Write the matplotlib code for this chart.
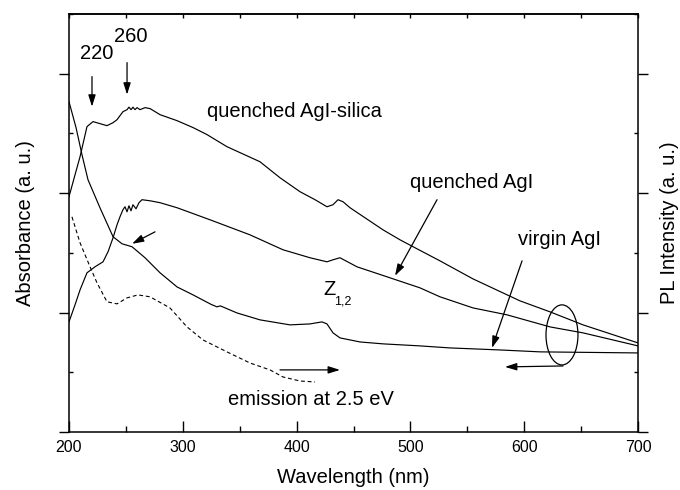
import matplotlib
matplotlib.use("Agg")
import matplotlib.pyplot as plt
from matplotlib.patches import Ellipse
from matplotlib.ticker import MultipleLocator

plt.rcParams['font.family'] = ['Liberation Sans', 'DejaVu Sans']

# ---- data (wavelength nm, absorbance / PL in a.u.) ----
silica_wl = [200.0, 205.3, 209.7, 215.8, 221.1, 227.2, 233.4, 238.7, 242.2, 247.4, 251.0, 252.7,
             254.5, 256.2, 258.0, 259.8, 262.4, 266.8, 271.2, 280.0, 294.9, 309.0, 321.3, 338.8,
             367.8, 385.4, 403.0, 416.2, 426.7, 432.0, 436.4, 440.8, 446.9, 475.9, 490.9, 505.8,
             526.0, 555.0, 596.3, 622.7, 651.7, 700.0]
silica_ab = [1.970, 2.154, 2.305, 2.557, 2.599, 2.582, 2.565, 2.590, 2.615, 2.682, 2.699, 2.720,
             2.699, 2.720, 2.699, 2.716, 2.699, 2.716, 2.708, 2.657, 2.607, 2.549, 2.490, 2.389,
             2.263, 2.129, 2.012, 1.945, 1.886, 1.903, 1.945, 1.928, 1.878, 1.693, 1.609, 1.534,
             1.433, 1.282, 1.098, 1.006, 0.897, 0.746]

quenched_wl = [200.0, 205.3, 209.7, 215.8, 222.8, 229.9, 234.3, 238.7, 242.2, 244.8, 247.4, 249.2,
               251.0, 252.7, 254.5, 256.2, 258.9, 261.5, 264.1, 271.2, 280.0, 294.9, 323.9, 359.0,
               388.0, 411.8, 426.7, 432.0, 438.1, 453.1, 482.1, 508.4, 526.0, 555.0, 584.9, 622.7,
               651.7, 700.0]
quenched_ab = [0.922, 1.065, 1.190, 1.333, 1.383, 1.425, 1.509, 1.626, 1.735, 1.802, 1.861, 1.886,
               1.844, 1.894, 1.852, 1.903, 1.869, 1.920, 1.945, 1.936, 1.920, 1.878, 1.777, 1.651,
               1.526, 1.459, 1.425, 1.442, 1.459, 1.383, 1.291, 1.207, 1.132, 1.039, 0.981, 0.880,
               0.830, 0.721]

virgin_wl = [200.0, 206.2, 211.4, 216.7, 227.2, 238.7, 246.6, 255.4, 266.8, 280.0, 294.9, 309.0,
             325.0, 330.0, 333.0, 347.6, 367.8, 394.2, 411.8, 422.3, 426.7, 432.0, 438.1, 455.7,
             475.9, 508.4, 534.8, 578.7, 613.9, 700.0]
virgin_ab = [2.766, 2.548, 2.322, 2.112, 1.878, 1.635, 1.576, 1.551, 1.459, 1.333, 1.215, 1.148,
             1.068, 1.048, 1.056, 0.997, 0.939, 0.897, 0.905, 0.922, 0.905, 0.830, 0.788, 0.754,
             0.738, 0.721, 0.704, 0.687, 0.671, 0.662]

emission_wl = [202.6, 209.7, 218.5, 224.6, 233.4, 242.2, 251.0, 260.6, 271.2, 288.7, 303.7, 317.7,
               338.8, 359.0, 376.6, 388.0, 403.0, 416.2]
emission_pl = [1.802, 1.584, 1.383, 1.249, 1.090, 1.073, 1.123, 1.148, 1.132, 1.039, 0.880, 0.771,
               0.671, 0.578, 0.520, 0.461, 0.427, 0.419]

x_ticks = [200, 300, 400, 500, 600, 700]
x_label = "Wavelength (nm)"
y_left_label = "Absorbance (a. u.)"
y_right_label = "PL Intensity (a. u.)"

fig = plt.figure(figsize=(6.8, 4.9), dpi=100)
ax = fig.add_axes([69 / 680, 58 / 490, (638 - 69) / 680, (432 - 14) / 490])

lw = 0.85
ax.plot(silica_wl, silica_ab, color='black', lw=lw)
ax.plot(quenched_wl, quenched_ab, color='black', lw=lw)
ax.plot(virgin_wl, virgin_ab, color='black', lw=lw)
ax.plot(emission_wl, emission_pl, color='black', lw=0.8, linestyle=(0, (3.5, 2.5)))

ax.set_xlim(200, 700)
ax.set_ylim(0, 3.5)

ax.set_xticks(x_ticks)
ax.xaxis.set_minor_locator(MultipleLocator(50))
ax.set_yticks([0, 1, 2, 3])
ax.yaxis.set_minor_locator(MultipleLocator(0.5))
ax.set_yticklabels([])

ax.tick_params(axis='x', which='major', direction='in', length=8, width=1.0,
               labelsize=11.5, pad=6, top=False)
ax.tick_params(axis='x', which='minor', direction='in', length=4, width=1.0, top=False)
ax.tick_params(axis='y', which='major', direction='out', length=7, width=1.0,
               left=True, right=True)
ax.tick_params(axis='y', which='minor', direction='in', length=3, width=1.0,
               left=True, right=True)

# top axis ticks (every 50 nm, short, inward)
secx = ax.secondary_xaxis('top')
secx.set_xticks(list(range(200, 701, 50)))
secx.tick_params(direction='in', length=3, width=1.0, labeltop=False)

for s in ax.spines.values():
    s.set_linewidth(1.1)
secx.spines['top'].set_linewidth(1.1)

ax.set_xlabel(x_label, fontsize=14.5, labelpad=9)
ax.set_ylabel(y_left_label, fontsize=14.5, labelpad=14)
ax.text(1.055, 0.5, y_right_label, transform=ax.transAxes, rotation=90,
        fontsize=14.5, ha='center', va='center')

# annotations
ap = dict(arrowstyle='-|>,head_length=0.7,head_width=0.22', color='black', lw=0.9,
          shrinkA=0, shrinkB=0)
ax.annotate('', xy=(220.2, 2.724), xytext=(220.2, 2.976), arrowprops=ap)
ax.annotate('', xy=(251.0, 2.825), xytext=(251.0, 3.093), arrowprops=ap)
ax.annotate('', xy=(255.4, 1.576), xytext=(275.6, 1.676), arrowprops=ap)
ax.annotate('', xy=(486.5, 1.308), xytext=(523.4, 1.945), arrowprops=ap)
ax.annotate('', xy=(571.7, 0.704), xytext=(598.1, 1.433), arrowprops=ap)
ax.annotate('', xy=(438.1, 0.520), xytext=(385.4, 0.520), arrowprops=ap)
ax.annotate('', xy=(583.1, 0.545), xytext=(634.1, 0.553), arrowprops=ap)
ax.add_patch(Ellipse((633.2, 0.813), 28.1, 0.503, fill=False, edgecolor='black', lw=0.9))

fs = 14.5
ax.text(224.6, 3.168, "220", fontsize=fs, ha='center', va='center')
ax.text(254.5, 3.311, "260", fontsize=fs, ha='center', va='center')
ax.text(321.3, 2.682, "quenched AgI-silica", fontsize=fs, ha='left', va='center')
ax.text(554.1, 2.087, "quenched AgI", fontsize=fs, ha='center', va='center')
ax.text(631.4, 1.609, "virgin AgI", fontsize=fs, ha='center', va='center')
ax.text(428.5, 1.19, "Z", fontsize=fs, ha='center', va='center')
ax.text(440.8, 1.09, "1,2", fontsize=9, ha='center', va='center')
ax.text(412.6, 0.268, "emission at 2.5 eV", fontsize=fs, ha='center', va='center')

fig.savefig("out.png", dpi=100)
